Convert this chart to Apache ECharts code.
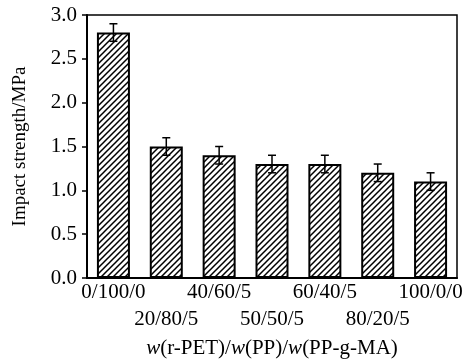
<!DOCTYPE html>
<html><head><meta charset="utf-8">
<script src="https://cdn.jsdelivr.net/npm/echarts@6/dist/echarts.min.js"></script>
<style>html,body{margin:0;padding:0;background:#fff}#c{width:475px;height:360px}</style>
</head><body><div id="c"></div>
<script>
var categories = ['0/100/0','20/80/5','40/60/5','50/50/5','60/40/5','80/20/5','100/0/0'];
var impactStrength = [2.8, 1.5, 1.4, 1.3, 1.3, 1.2, 1.1];
var errorValues = [0.1, 0.1, 0.1, 0.1, 0.1, 0.1, 0.1];
var yTicks = ['0.0','0.5','1.0','1.5','2.0','2.5','3.0'];

var FONT = '"Liberation Serif","Times New Roman",serif';

function hatch() {
  var s = 6;
  var cv = document.createElement('canvas');
  cv.width = s; cv.height = s;
  var ctx = cv.getContext('2d');
  ctx.fillStyle = '#fff'; ctx.fillRect(0,0,s,s);
  ctx.strokeStyle = '#000'; ctx.lineWidth = 1.5;
  ctx.beginPath();
  ctx.moveTo(-1, s+1); ctx.lineTo(s+1, -1);
  ctx.moveTo(-1, 1); ctx.lineTo(1, -1);
  ctx.moveTo(s-1, s+1); ctx.lineTo(s+1, s-1);
  ctx.stroke();
  return cv;
}

var chart = echarts.init(document.getElementById('c'), null, {renderer:'canvas'});
var errData = impactStrength.map(function(v,i){ return [i, v - errorValues[i], v + errorValues[i]]; });

chart.setOption({
  animation: false,
  grid: {left: 87, right: 18, top: 15, bottom: 82, show: true, borderColor: '#000', borderWidth: 1.5, backgroundColor: 'transparent', containLabel: false, outerBoundsMode: 'none'},
  xAxis: {
    type: 'category',
    data: categories,
    axisLine: {lineStyle: {color: '#000', width: 2}},
    axisTick: {alignWithLabel: true, length: 4, lineStyle: {color: '#000', width: 1.5}},
    axisLabel: {
      interval: 0, color: '#000', fontFamily: FONT, fontSize: 21, margin: 1, lineHeight: 27,
      hideOverlap: false,
      formatter: function(v, i){ return i % 2 ? '\n' + v : v; }
    },
    name: '{i|w}(r-PET)/{i|w}(PP)/{i|w}(PP-g-MA)',
    nameLocation: 'middle',
    nameGap: 57,
    nameTextStyle: {color: '#000', fontFamily: FONT, fontSize: 21, rich: {i: {fontStyle: 'italic', fontFamily: FONT, fontSize: 21, color: '#000'}}}
  },
  yAxis: {
    type: 'value', min: 0, max: 3, interval: 0.5,
    axisLine: {show: true, lineStyle: {color: '#000', width: 2}},
    axisTick: {show: true, length: 5, lineStyle: {color: '#000', width: 1.5}},
    splitLine: {show: false},
    axisLabel: {color: '#000', fontFamily: FONT, fontSize: 21, margin: 10,
      formatter: function(v){ return yTicks[Math.round(v / 0.5)]; }},
    name: 'Impact strength/MPa',
    nameLocation: 'middle',
    nameGap: 57,
    nameTextStyle: {color: '#000', fontFamily: FONT, fontSize: 19}
  },
  series: [{
    type: 'bar',
    data: impactStrength,
    barWidth: 33,
    itemStyle: {color: {image: hatch(), repeat: 'repeat'}, borderColor: '#000', borderWidth: 2}
  }, {
    type: 'custom',
    data: errData,
    z: 10,
    renderItem: function(params, api){
      var x = api.value(0);
      var lo = api.coord([x, api.value(1)]);
      var hi = api.coord([x, api.value(2)]);
      var w = 4;
      var st = {stroke: '#000', lineWidth: 1.5};
      return {type: 'group', children: [
        {type: 'line', shape: {x1: lo[0], y1: lo[1], x2: hi[0], y2: hi[1]}, style: st},
        {type: 'line', shape: {x1: lo[0]-w, y1: lo[1], x2: lo[0]+w, y2: lo[1]}, style: st},
        {type: 'line', shape: {x1: hi[0]-w, y1: hi[1], x2: hi[0]+w, y2: hi[1]}, style: st}
      ]};
    }
  }]
});
</script>
</body></html>
